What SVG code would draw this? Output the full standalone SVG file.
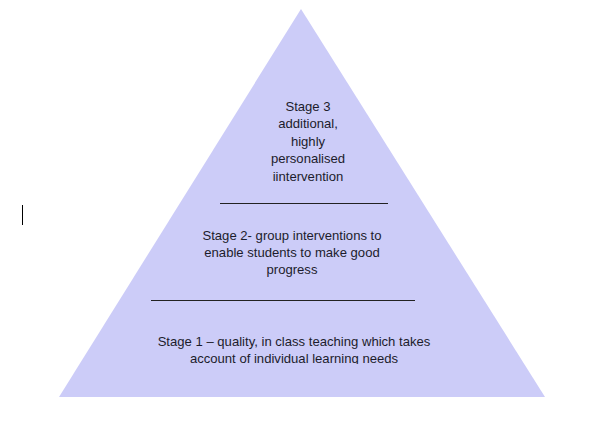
<svg xmlns="http://www.w3.org/2000/svg" width="605" height="434" viewBox="0 0 605 434">
<style>
.t{font-family:"Liberation Sans",Arial,sans-serif;font-size:13.1px;fill:#1c1c2c;text-anchor:middle}
.rule{stroke:#222;stroke-width:1}
</style>
<defs><clipPath id="c1"><rect x="0" y="0" width="605" height="364"/></clipPath></defs>
<rect width="605" height="434" fill="#fff"/>
<g id="pyramid"><polygon points="301,9 59,397 545,397" fill="#ccccf8"/></g>
<g id="connectors">
<line class="rule" x1="220" y1="203.5" x2="388" y2="203.5"/>
<line class="rule" x1="151" y1="300.5" x2="415" y2="300.5"/>
</g>
<g id="stage3">
<text class="t" x="308" y="111">Stage 3</text>
<text class="t" x="308" y="128">additional,</text>
<text class="t" x="308" y="146">highly</text>
<text class="t" x="308" y="163">personalised</text>
<text class="t" x="308" y="181">iintervention</text>
</g>
<g id="stage2">
<text class="t" x="292" y="240">Stage 2- group interventions to</text>
<text class="t" x="292" y="257">enable students to make good</text>
<text class="t" x="292" y="274">progress</text>
</g>
<g id="stage1" clip-path="url(#c1)">
<text class="t" x="294" y="346">Stage 1 – quality, in class teaching which takes</text>
<text class="t" x="294" y="363">account of individual learning needs</text>
</g>
<line x1="22.5" y1="205" x2="22.5" y2="225" stroke="#000" stroke-width="1"/>
</svg>
